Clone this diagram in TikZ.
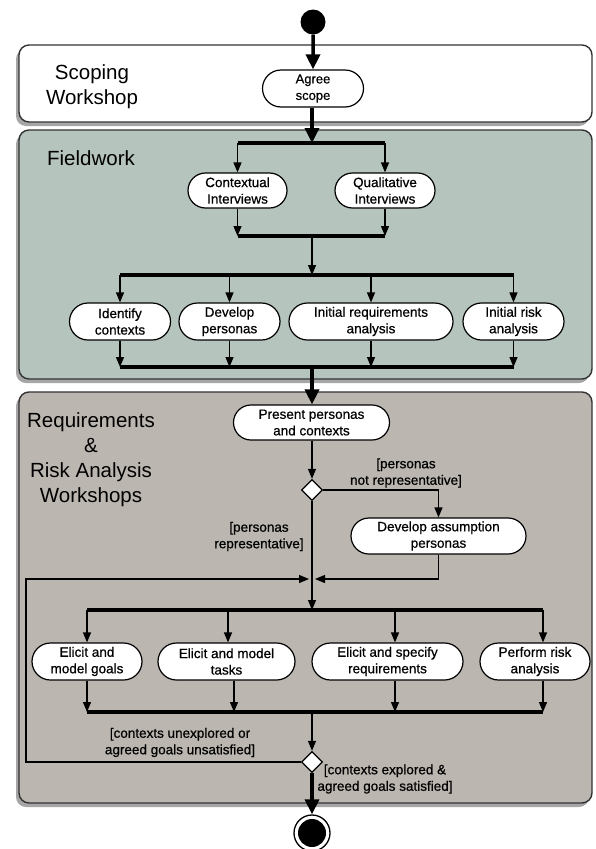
\documentclass[tikz,border=0pt]{standalone}
\usepackage{fontspec}
\setmainfont{Liberation Sans}
\newfontfamily\actfont[FakeBold=0.6]{Liberation Sans}
\usetikzlibrary{shapes.misc,shapes.geometric,shadows,arrows.meta,calc}
\definecolor{fieldc}{RGB}{181,196,189}
\definecolor{reqc}{RGB}{187,182,176}
\begin{document}
\begin{tikzpicture}[x=1pt,y=-1pt,
 lane/.style={draw=black!80, line width=1.4pt, rounded corners=10pt,
   drop shadow={shadow xshift=-3pt,shadow yshift=-4pt,opacity=0.35,fill=black}},
 lanetitle/.style={align=center, font=\fontsize{20.5}{25}\selectfont, inner sep=0pt},
 act/.style={rounded rectangle, draw, line width=1.2pt, fill=white, align=center,
   font=\actfont\fontsize{13.5}{16.5}\selectfont, inner sep=1pt, minimum height=37pt},
 guard/.style={align=center, font=\actfont\fontsize{13.5}{16.5}\selectfont, inner sep=0pt},
 bar/.style={line width=3.5pt},
 flow/.style={line width=1.2pt, -{Triangle[length=10pt,width=8pt]}},
 thickflow/.style={line width=3.5pt, -{Triangle[length=15pt,width=14pt]}},
 decision/.style={diamond, draw, fill=white, line width=1.3pt, minimum size=21pt, inner sep=0pt}
]
\useasboundingbox (0,0) rectangle (595,849);
% lanes
\draw[lane, fill=white] (19,45) rectangle (592,122);
\draw[lane, fill=fieldc] (19,130) rectangle (592,379);
\draw[lane, fill=reqc] (19,392) rectangle (592,803);
\node[lanetitle] (t1) at (92,86.5) {Scoping\\Workshop};
\node[lanetitle] (t2) at (91,158) {Fieldwork};
\node[lanetitle] (t3) at (91,460) {Requirements\\\&\\Risk Analysis\\Workshops};
% start
\node[circle, fill=black, minimum size=25pt, inner sep=0pt] (start) at (313,22) {};
\node[act, minimum width=103pt, font=\actfont\fontsize{13}{16.5}\selectfont] (agree) at (313,88.5) {Agree\\scope};
\draw[thickflow] (start) -- (agree);
% fieldwork
\coordinate (f1) at (312,143);
\node[act, minimum width=101pt, minimum height=35pt] (ctx) at (237.5,190.5) {Contextual\\Interviews};
\node[act, minimum width=102pt, minimum height=35pt] (qual) at (385,190.5) {Qualitative\\Interviews};
\draw[thickflow] (agree.south -| f1) -- (f1);
\draw[flow] (ctx.north |- f1) -- (ctx.north);
\draw[flow] (qual.north |- f1) -- (qual.north);
\draw[bar] (ctx.north |- f1) -- (qual.north |- f1);
\coordinate (j1) at (312,236);
\draw[flow] (ctx.south) -- (ctx.south |- j1);
\draw[flow] (qual.south) -- (qual.south |- j1);
\draw[bar] (ctx |- j1) -- (qual |- j1);
\coordinate (f2) at (312,275);
\draw[flow] (j1) -- (f2);
\node[act, minimum width=103pt] (idc) at (120,321.5) {Identify\\contexts};
\node[act, minimum width=103pt] (devp) at (229.5,321.5) {Develop\\personas};
\node[act, minimum width=166pt] (ireq) at (371,321.5) {Initial requirements\\analysis};
\node[act, minimum width=103pt] (irk) at (513.5,321.5) {Initial risk\\analysis};
\foreach \n in {idc,devp,ireq,irk}{\draw[flow] (\n.north |- f2) -- (\n.north);}
\draw[bar] (idc |- f2) -- (irk |- f2);
\coordinate (j2) at (312,367);
\foreach \n in {idc,devp,ireq,irk}{\draw[flow] (\n.south) -- (\n.south |- j2);}
\draw[bar] (idc |- j2) -- (irk |- j2);
% requirements workshops
\node[act, minimum width=158pt, minimum height=35pt] (present) at (311.5,422.5) {Present personas\\and contexts};
\draw[thickflow] (j2) -- (present.north -| j2);
\node[decision] (dec1) at (312,490) {};
\draw[flow] (present.south -| dec1) -- (dec1);
\node[act, minimum width=177pt, minimum height=36pt] (dev) at (438.5,536) {Develop assumption\\personas};
\draw[flow] (dec1.east) -| (dev.north);
\node[guard] (gl1) at (406,473) {[personas\\not representative]};
\node[guard] (gl2) at (259,536.5) {[personas\\representative]};
\coordinate (m) at (312,579);
\coordinate (f3) at (312,610);
\draw[flow] (dec1.south) -- (f3);
\draw[flow] (dev.south) |- ($(m)+(3,0)$);
\node[act, minimum width=112pt] (g1) at (87,661.5) {Elicit and\\model goals};
\node[act, minimum width=139pt] (g2) at (226.5,661.5) {Elicit and model\\tasks};
\node[act, minimum width=153pt] (g3) at (387.5,661.5) {Elicit and specify\\requirements};
\node[act, minimum width=112pt] (g4) at (535,661.5) {Perform risk\\analysis};
\foreach \n/\dx in {g1/0,g2/1.5,g3/7.5,g4/8}{\draw[flow] ($(\n.north |- f3)+(\dx,0)$) -- ($(\n.north)+(\dx,0)$);}
\draw[bar] (g1 |- f3) -- ($(g4 |- f3)+(8,0)$);
\coordinate (j3) at (312,712);
\foreach \n/\dx in {g1/0,g2/7.5,g3/7.5,g4/8}{\draw[flow] ($(\n.south)+(\dx,0)$) -- ($(\n.south |- j3)+(\dx,0)$);}
\draw[bar] (g1 |- j3) -- ($(g4 |- j3)+(8,0)$);
\node[decision] (dec2) at (312,762) {};
\draw[flow] (j3) -- (dec2);
\coordinate (lp) at (26,579);
\draw[flow] (dec2.west) -| (lp) -- ($(m)+(-3,0)$);
\node[guard] (gl3) at (180,742.5) {[contexts unexplored or\\agreed goals unsatisfied]};
\node[guard] (gl4) at (385,779) {[contexts explored \&\\agreed goals satisfied]};
% end
\node[circle, draw, line width=1.3pt, fill=white, minimum size=36pt, inner sep=0pt] (end) at (312,833) {};
\node[circle, fill=black, minimum size=28pt, inner sep=0pt] (endin) at (end) {};
\draw[thickflow] (dec2) -- (end);
\end{tikzpicture}
\end{document}
